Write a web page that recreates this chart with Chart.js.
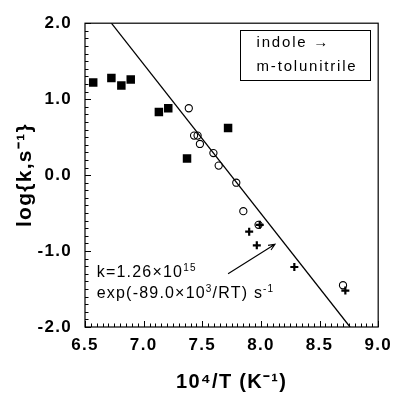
<!DOCTYPE html>
<html>
<head>
<meta charset="utf-8">
<script src="https://cdn.jsdelivr.net/npm/chart.js@4.4.1/dist/chart.umd.min.js"></script>
<style>
    html, body { margin: 0; padding: 0; background: #fff; }
    #wrap { width: 398px; height: 393px; }
</style>
</head>
<body>
<div id="wrap"><canvas id="chart"></canvas></div>
<script>
// filled squares
const squareX = [6.57, 6.725, 6.81, 6.89, 7.13, 7.21, 7.37, 7.72];
const squareY = [1.22, 1.28, 1.18, 1.26, 0.83, 0.88, 0.22, 0.62];
// open circles
const circleX = [7.385, 7.43, 7.46, 7.48, 7.595, 7.64, 7.79, 7.85, 7.98, 8.70];
const circleY = [0.88, 0.52, 0.52, 0.41, 0.29, 0.125, -0.10, -0.475, -0.655, -1.45];
// plus marks
const plusX = [7.90, 7.965, 7.99, 8.285, 8.72];
const plusY = [-0.745, -0.925, -0.655, -1.21, -1.52];
// fitted line
const fitX = [6.725, 8.76];
const fitY = [2.0, -2.0];

// axes
const xMin = 6.5, xMax = 9.0, xStep = 0.5, xMinorStep = 0.05;
const yMin = -2.0, yMax = 2.0, yStep = 1.0, yMinorStep = 0.1;
const xTitle = "10\u2074/T (K\u207B\u00B9)";
const yTitle = "log{k,s\u207B\u00B9}";

// text box and note (data coordinates)
const boxCorners = [7.82, 1.91, 8.93, 1.25];
const boxLines = ["indole \u2192", "m-tolunitrile"];
const boxTextX = 7.963;
const boxTextY = [1.682, 1.373];
const noteLines = [
    [["k=1.26\u00D710", false], ["15", true]],
    [["exp(-89.0\u00D710", false], ["3", true], ["/RT) s", false], ["-1", true]]
];
const noteX = 6.6;
const noteY = [-1.346, -1.617];
const arrowFrom = [7.72, -1.30];
const arrowTo = [8.12, -0.91];

function pts(xs, ys) {
    return xs.map((x, i) => ({ x: x, y: ys[i] }));
}

function drawRuns(ctx, runs, x, y, size) {
    runs.forEach(([text, sup]) => {
        if (sup) {
            ctx.font = `${Math.round(size * 0.62)}px "Liberation Sans"`;
            ctx.fillText(text, x, y - size * 0.4);
        } else {
            ctx.font = `${size}px "Liberation Sans"`;
            ctx.fillText(text, x, y);
        }
        x += ctx.measureText(text).width;
    });
}

const decorations = {
    id: "decorations",
    beforeDraw(chart) {
        chart.ctx.letterSpacing = "1.3px";
    },
    afterDraw(chart) {
        const ctx = chart.ctx;
        const xs = chart.scales.x, ys = chart.scales.y;
        const a = chart.chartArea;
        ctx.save();
        ctx.strokeStyle = "#000";
        ctx.fillStyle = "#000";

        // frame
        ctx.lineWidth = 1.2;
        ctx.strokeRect(a.left, a.top, a.right - a.left, a.bottom - a.top);

        // inward ticks
        ctx.lineWidth = 1;
        ctx.beginPath();
        const nx = Math.round((xMax - xMin) / xMinorStep);
        for (let i = 0; i <= nx; i++) {
            const px = Math.round(xs.getPixelForValue(xMin + i * xMinorStep)) + 0.5;
            const len = i % 10 === 0 ? 6 : 3.5;
            ctx.moveTo(px, a.bottom);
            ctx.lineTo(px, a.bottom - len);
        }
        const ny = Math.round((yMax - yMin) / yMinorStep);
        for (let i = 0; i <= ny; i++) {
            const py = Math.round(ys.getPixelForValue(yMin + i * yMinorStep)) + 0.5;
            const len = i % 10 === 0 ? 6 : 3.5;
            ctx.moveTo(a.left, py);
            ctx.lineTo(a.left + len, py);
        }
        ctx.stroke();

        // label box
        const bx0 = xs.getPixelForValue(boxCorners[0]);
        const by0 = ys.getPixelForValue(boxCorners[1]);
        const bx1 = xs.getPixelForValue(boxCorners[2]);
        const by1 = ys.getPixelForValue(boxCorners[3]);
        ctx.lineWidth = 1;
        ctx.strokeRect(Math.round(bx0) + 0.5, Math.round(by0) + 0.5, Math.round(bx1 - bx0), Math.round(by1 - by0));
        ctx.letterSpacing = "1.8px";
        ctx.font = '15px "Liberation Sans"';
        ctx.textAlign = "left";
        ctx.textBaseline = "alphabetic";
        boxLines.forEach((t, i) => {
            ctx.fillText(t, xs.getPixelForValue(boxTextX), ys.getPixelForValue(boxTextY[i]));
        });

        // note
        ctx.letterSpacing = "1.2px";
        noteLines.forEach((runs, i) => {
            drawRuns(ctx, runs, xs.getPixelForValue(noteX), ys.getPixelForValue(noteY[i]), 16);
        });

        // arrow
        const ax0 = xs.getPixelForValue(arrowFrom[0]), ay0 = ys.getPixelForValue(arrowFrom[1]);
        const ax1 = xs.getPixelForValue(arrowTo[0]), ay1 = ys.getPixelForValue(arrowTo[1]);
        const ang = Math.atan2(ay1 - ay0, ax1 - ax0);
        ctx.lineWidth = 1.1;
        ctx.beginPath();
        ctx.moveTo(ax0, ay0);
        ctx.lineTo(ax1, ay1);
        ctx.moveTo(ax1 - 7 * Math.cos(ang - 0.4), ay1 - 7 * Math.sin(ang - 0.4));
        ctx.lineTo(ax1, ay1);
        ctx.lineTo(ax1 - 7 * Math.cos(ang + 0.4), ay1 - 7 * Math.sin(ang + 0.4));
        ctx.stroke();
        ctx.restore();
    }
};

const ctx = document.getElementById("chart").getContext("2d");
new Chart(ctx, {
    type: "scatter",
    data: {
        datasets: [
            {
                label: "fit",
                type: "line",
                data: pts(fitX, fitY),
                borderColor: "#000",
                borderWidth: 1.3,
                pointRadius: 0,
                fill: false,
            },
            {
                label: "squares",
                data: pts(squareX, squareY),
                pointStyle: "rect",
                pointRadius: 6,
                backgroundColor: "#000",
                borderColor: "#000",
                borderWidth: 0,
            },
            {
                label: "circles",
                data: pts(circleX, circleY),
                pointStyle: "circle",
                pointRadius: 3.6,
                backgroundColor: "rgba(0,0,0,0)",
                borderColor: "#000",
                borderWidth: 1.1,
            },
            {
                label: "plus",
                data: pts(plusX, plusY),
                pointStyle: "cross",
                pointRadius: 4,
                borderColor: "#000",
                borderWidth: 2.2,
            },
        ],
    },
    options: {
        responsive: true,
        maintainAspectRatio: false,
        animation: false,
        events: [],
        layout: { padding: { top: 16, right: 16, left: 0, bottom: 0 } },
        plugins: {
            legend: { display: false },
            tooltip: { enabled: false },
        },
        scales: {
            x: {
                type: "linear",
                min: xMin,
                max: xMax,
                grid: { display: false, drawTicks: false, tickLength: 0 },
                border: { display: false },
                ticks: {
                    stepSize: xStep,
                    padding: 8,
                    color: "#000",
                    font: { family: "Liberation Sans", size: 17, weight: "bold" },
                    callback: v => v.toFixed(1),
                },
                title: {
                    display: true,
                    text: xTitle,
                    color: "#000",
                    padding: { top: 0, bottom: 0 },
                    font: { family: "Liberation Sans", size: 20, weight: "bold", lineHeight: 1.1 },
                },
                afterFit(scale) { scale.height = 66; },
            },
            y: {
                min: yMin,
                max: yMax,
                grid: { display: false, drawTicks: false, tickLength: 0 },
                border: { display: false },
                ticks: {
                    stepSize: yStep,
                    padding: 13,
                    color: "#000",
                    font: { family: "Liberation Sans", size: 17, weight: "bold" },
                    callback: v => v.toFixed(1),
                },
                title: {
                    display: true,
                    text: yTitle,
                    color: "#000",
                    padding: { top: 13, bottom: 0 },
                    font: { family: "Liberation Sans", size: 21, weight: "bold", lineHeight: 1.2 },
                },
                afterFit(scale) { scale.width = 85; },
            },
        },
    },
    plugins: [decorations],
});
</script>
</body>
</html>
